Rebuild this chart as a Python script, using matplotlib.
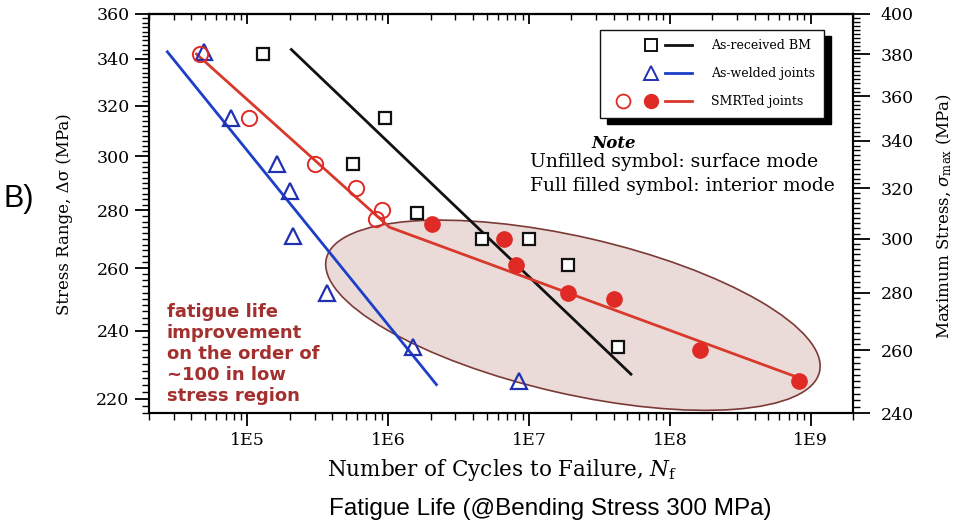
import matplotlib
matplotlib.use("Agg")
import matplotlib.pyplot as plt
from matplotlib.lines import Line2D
from matplotlib.legend_handler import HandlerTuple
from matplotlib.patches import Ellipse
from matplotlib.transforms import IdentityTransform
from matplotlib.ticker import FixedLocator, LogLocator, NullFormatter

plt.rcParams["mathtext.fontset"] = "dejavuserif"
SERIF = "DejaVu Serif"   # más ancha que Times, imita el estirado horizontal del original
SANS = "Liberation Sans"

# ─── Datos (N ciclos, rango de tensión en MPa)
bm_n = [1.28e5, 9.5e5, 5.6e5, 1.6e6, 4.6e6, 1.0e7, 1.9e7, 4.3e7]
bm_s = [342, 315, 297, 279, 270, 270, 261, 235]
bm_fit_n = [2.05e5, 5.3e7]
bm_fit_s = [344, 227]

aw_n = [4.9e4, 7.6e4, 1.63e5, 2.0e5, 2.1e5, 3.7e5, 1.5e6, 8.5e6]
aw_s = [343, 315, 297, 287, 271, 252, 235, 225]
aw_fit_n = [2.7e4, 2.2e6]
aw_fit_s = [343, 224]

smrt_surf_n = [4.6e4, 1.02e5, 3.0e5, 5.9e5, 9.1e5, 8.2e5]
smrt_surf_s = [342, 315, 297, 288, 280, 277]
smrt_int_n = [2.05e6, 6.6e6, 8.1e6, 1.9e7, 4.0e7, 1.63e8, 8.3e8]
smrt_int_s = [275, 270, 261, 252, 250, 234, 225]
# ajuste bilineal (cambio de pendiente hacia el modo interior)
smrt_fit_n = [4.35e4, 1.02e6, 8.2e8]
smrt_fit_s = [342, 274, 226]

x_ticks = [1e5, 1e6, 1e7, 1e8, 1e9]
x_tick_labels = ["1E5", "1E6", "1E7", "1E8", "1E9"]
left_ticks = list(range(220, 361, 20))
right_ticks = list(range(240, 401, 20))
legend_labels = ["As-received BM", "As-welded joints", "SMRTed joints"]

# zona de bajo esfuerzo resaltada (centro en datos)
zone_center = (2.05e7, 244.8)

BLACK = "#111111"
BLUE_LINE = "#1c3fc8"
BLUE_MK = "#2231b0"
RED_LINE = "#d8392b"
RED_MK = "#e02a26"
NOTE_RED = "#a3302e"

W, H = 961, 526
fig = plt.figure(figsize=(W / 100, H / 100), dpi=100)
ax = fig.add_axes([149 / W, 113 / H, 704 / W, 399 / H])
ax.set_xscale("log")
ax.set_yscale("log")
ax.set_xlim(2e4, 2e9)
ax.set_ylim(216, 360)

ax.plot(bm_fit_n, bm_fit_s, color=BLACK, lw=2, zorder=3)
ax.plot(aw_fit_n, aw_fit_s, color=BLUE_LINE, lw=2, zorder=3)
ax.plot(smrt_fit_n, smrt_fit_s, color=RED_LINE, lw=2, zorder=3)

ax.plot(bm_n, bm_s, ls="none", marker="s", ms=9, mfc="white", mec=BLACK, mew=1.6, zorder=4)
ax.plot(aw_n, aw_s, ls="none", marker="^", ms=11, mfc="none", mec=BLUE_MK, mew=1.6, zorder=4)
ax.plot(smrt_surf_n, smrt_surf_s, ls="none", marker="o", ms=11, mfc="none", mec=RED_MK, mew=1.4, zorder=4)
ax.plot(smrt_int_n, smrt_int_s, ls="none", marker="o", ms=11, mfc=RED_MK, mec=RED_MK, zorder=4)

# elipse en píxeles de pantalla (la escala log-log hace que sea elipse en la imagen)
cx, cy = ax.transData.transform(zone_center)
ax.add_patch(Ellipse((cx, cy), 506 * fig.dpi / 100, 157 * fig.dpi / 100, angle=-12.9,
                     transform=IdentityTransform(), fc="#eadbd9", ec="#7c3a36",
                     lw=1.2, zorder=1))

# ejes
ax.set_xticks(x_ticks, x_tick_labels)
ax.xaxis.set_minor_locator(LogLocator(base=10, subs=range(2, 10)))
ax.xaxis.set_minor_formatter(NullFormatter())
ax.set_yticks(left_ticks, [str(v) for v in left_ticks])
ax.yaxis.set_minor_locator(FixedLocator(range(216, 361, 2)))
ax.yaxis.set_minor_formatter(NullFormatter())
ax.tick_params(axis="x", which="major", direction="out", length=9, width=1.3, pad=5)
ax.tick_params(axis="x", which="minor", direction="out", length=5, width=1)
ax.tick_params(axis="y", which="major", direction="out", length=10, width=1.3, pad=4)
ax.tick_params(axis="y", which="minor", direction="out", length=5, width=1)
for lbl in ax.get_xticklabels() + ax.get_yticklabels():
    lbl.set_family(SERIF)
    lbl.set_fontsize(12.5)

top = ax.secondary_xaxis("top")
top.set_xticks(x_ticks, [""] * len(x_ticks))
top.xaxis.set_minor_locator(LogLocator(base=10, subs=range(2, 10)))
top.xaxis.set_minor_formatter(NullFormatter())
top.tick_params(axis="x", which="major", direction="in", length=7, width=1.3)
top.tick_params(axis="x", which="minor", direction="in", length=4, width=1)

ax2 = ax.twinx()
ax2.set_yscale("log")
ax2.set_ylim(240, 400)
ax2.set_yticks(right_ticks, [str(v) for v in right_ticks])
ax2.yaxis.set_minor_locator(FixedLocator(range(240, 401, 2)))
ax2.yaxis.set_minor_formatter(NullFormatter())
ax2.tick_params(axis="y", which="major", direction="out", length=12, width=1.3, pad=8)
ax2.tick_params(axis="y", which="minor", direction="out", length=5, width=1)
for lbl in ax2.get_yticklabels():
    lbl.set_family(SERIF)
    lbl.set_fontsize(12.5)

for a in (ax, ax2, top):
    for sp in a.spines.values():
        sp.set_linewidth(1.5)

ax.set_xlabel(r"Number of Cycles to Failure, $N_\mathrm{f}$", family=SERIF, fontsize=15.5)
ax.xaxis.set_label_coords(0.501, -0.11)
ax.set_ylabel("Stress Range, Δσ (MPa)", family=SERIF, fontsize=12)
ax.yaxis.label.set_va("center")
ax.yaxis.set_label_coords((65 - 149) / 704, (413 - 214) / 399)
ax2.set_ylabel(r"Maximum Stress, $\sigma_\mathrm{max}$ (MPa)", family=SERIF, fontsize=12)
ax2.yaxis.label.set_va("center")
ax2.yaxis.set_label_coords((944 - 149) / 704, (413 - 216) / 399)

# leyenda: símbolo(s) + línea
blank = Line2D([], [], ls="none")
h_bm = (blank, Line2D([], [], ls="none", marker="s", ms=8, mfc="white", mec=BLACK, mew=1.4),
        Line2D([], [], color=BLACK, lw=2))
h_aw = (blank, Line2D([], [], ls="none", marker="^", ms=10, mfc="none", mec=BLUE_MK, mew=1.4),
        Line2D([], [], color=BLUE_LINE, lw=2))
h_sm = (Line2D([], [], ls="none", marker="o", ms=10, mfc="none", mec=RED_MK, mew=1.3),
        Line2D([], [], ls="none", marker="o", ms=10, mfc=RED_MK, mec=RED_MK),
        Line2D([], [], color=RED_LINE, lw=2))
leg = ax.legend([h_bm, h_aw, h_sm], legend_labels,
                handler_map={tuple: HandlerTuple(ndivide=None, pad=0)},
                loc="upper left", bbox_to_anchor=(0.641, 0.96), borderaxespad=0,
                prop={"family": SERIF, "size": 9}, handlelength=6.6,
                handletextpad=1.5, borderpad=0.75, labelspacing=1.2,
                fancybox=False, framealpha=1, edgecolor=BLACK,
                shadow={"ox": 4.5, "oy": -4.5, "color": "black", "alpha": 1})
leg.get_frame().set_linewidth(1.0)
leg.set_zorder(6)


def fpos(x, y):
    return x / W, 1 - y / H


fig.text(*fpos(614, 144), "Note", ha="center", va="center", family=SERIF,
         fontsize=12, weight="bold", style="italic")
fig.text(*fpos(530, 162), "Unfilled symbol: surface mode", ha="left", va="center",
         family=SERIF, fontsize=13.5)
fig.text(*fpos(530, 186), "Full filled symbol: interior mode", ha="left", va="center",
         family=SERIF, fontsize=13.5)

fig.text(*fpos(167, 303), "fatigue life\nimprovement\non the order of\n~100 in low\nstress region",
         ha="left", va="top", family="DejaVu Sans", weight="bold", fontsize=13,
         color=NOTE_RED, linespacing=1.22)

fig.text(*fpos(3, 199), "B)", ha="left", va="center", family=SANS, fontsize=22)
fig.text(*fpos(550, 509), "Fatigue Life (@Bending Stress 300 MPa)", ha="center",
         va="center", family=SANS, fontsize=17.5)

fig.savefig("out.png", dpi=100)
print("Guardado: out.png")
